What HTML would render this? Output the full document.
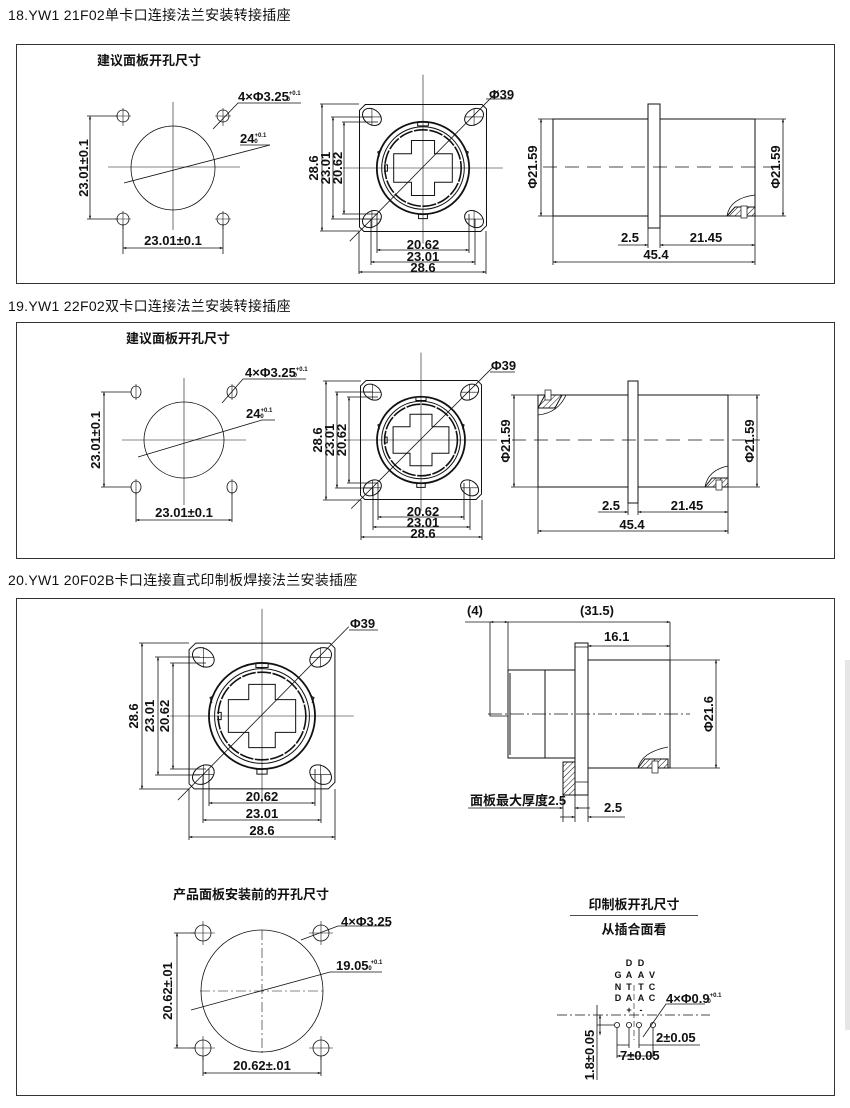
<!DOCTYPE html>
<html><head><meta charset="utf-8"><style>
html,body{margin:0;padding:0;background:#fff;}
svg{display:block;}
text{font-family:"Liberation Sans","Noto Sans CJK SC",sans-serif;fill:#111;}
.t{font-size:14px;letter-spacing:0.3px;}
.b{font-size:13px;font-weight:bold;}
</style></head><body>
<svg width="850" height="1108" viewBox="0 0 850 1108" xmlns="http://www.w3.org/2000/svg">
<defs>
<marker id="a" viewBox="0 0 10 10" refX="10" refY="5" markerWidth="6" markerHeight="4" orient="auto-start-reverse"><path d="M0,1.5 L10,5 L0,8.5z" fill="#111"/></marker>
<pattern id="h" width="4" height="4" patternUnits="userSpaceOnUse" patternTransform="rotate(45)"><line x1="0" y1="0" x2="0" y2="4" stroke="#111" stroke-width="1"/></pattern>
<g id="fv" fill="none" stroke="#111">
<path d="M-13,-14.3 L13.3,-14.3 L14.3,-13.3 L14.3,13 L13,14.3 L-13.3,14.3 L-14.3,13.3 L-14.3,-13 Z" vector-effect="non-scaling-stroke" stroke-width="1"/>
<g stroke-width="1">
<ellipse cx="-11.5" cy="-11.5" rx="2.3" ry="1.7" transform="rotate(35 -11.5 -11.5)" vector-effect="non-scaling-stroke"/>
<ellipse cx="11.5" cy="-11.5" rx="2.3" ry="1.7" transform="rotate(-35 11.5 -11.5)" vector-effect="non-scaling-stroke"/>
<ellipse cx="-11.5" cy="11.5" rx="2.3" ry="1.7" transform="rotate(-35 -11.5 11.5)" vector-effect="non-scaling-stroke"/>
<ellipse cx="11.5" cy="11.5" rx="2.3" ry="1.7" transform="rotate(35 11.5 11.5)" vector-effect="non-scaling-stroke"/>
</g>
<circle r="10.4" stroke-width="1.8" vector-effect="non-scaling-stroke"/>
<circle r="9.3" stroke-width="1" vector-effect="non-scaling-stroke"/>
<circle r="8.6" stroke-width="1.6" stroke-dasharray="14 1.5" vector-effect="non-scaling-stroke"/>
<path d="M-2.6,-6.2 L2.6,-6.2 L2.6,-3.2 L6.6,-3.2 L6.6,3.2 L2.6,3.2 L2.6,6.2 L-2.6,6.2 L-2.6,3.2 L-6.6,3.2 L-6.6,-3.2 L-2.6,-3.2 Z" stroke-width="1" vector-effect="non-scaling-stroke"/>
<path d="M-1.2,-10.3 V-9.5 H1.2 V-10.3 M-1,10.4 V11.4 H1 V10.4 M-9.4,-4 L-10.2,-3.6 L-9.8,-2.6 M9.4,-4 L10.2,-3.6 L9.8,-2.6 M-8.8,-0.7 H-8 V0.7 H-8.8" stroke-width="1" vector-effect="non-scaling-stroke"/>
<path d="M-18,0 H18 M0,-21 V17 M-11.5,-13.5 V-9.5 M-13.5,-11.5 H-9.5 M11.5,-13.5 V-9.5 M13.5,-11.5 H9.5 M-11.5,13.5 V9.5 M-13.5,11.5 H-9.5 M11.5,13.5 V9.5 M13.5,11.5 H9.5" stroke-width="0.6" vector-effect="non-scaling-stroke"/>
<path d="M-16.5,16.5 L17,-17.5" stroke-width="0.8" vector-effect="non-scaling-stroke"/>
</g>
</defs>

<!-- ===== Section 18 ===== -->
<text x="8" y="20" class="t">18.YW1 21F02单卡口连接法兰安装转接插座</text>
<rect x="16.5" y="44.5" width="818" height="239" fill="none" stroke="#333" stroke-width="1"/>
<text x="97" y="65" class="b" font-size="12">建议面板开孔尺寸</text>
<g fill="none" stroke="#111" stroke-width="0.8">
<circle cx="173" cy="168" r="42"/>
<circle cx="123" cy="116" r="6"/><circle cx="223" cy="116" r="6"/><circle cx="123" cy="219" r="6"/><circle cx="223" cy="219" r="6"/>
<path d="M108,167 H240 M173,102 V230 M123,108 V126 M115,116 H131 M223,108 V126 M215,116 H231 M123,211 V229 M115,219 H131 M223,211 V229 M215,219 H231" stroke-width="0.6"/>
<path d="M87,116 H118 M87,219 H118 M123,224 V254 M223,224 V254"/>
<path d="M90,116 V219" marker-start="url(#a)" marker-end="url(#a)"/>
<path d="M123,248 H223" marker-start="url(#a)" marker-end="url(#a)"/>
<path d="M213,129 L238,103 H301"/>
<path d="M124,183 L270,145"/>
<path d="M240,145 H270"/>
</g>
<text x="88" y="168" class="b" text-anchor="middle" transform="rotate(-90 88 168)">23.01±0.1</text>
<text x="173" y="245" class="b" text-anchor="middle">23.01±0.1</text>
<text x="238" y="101" class="b">4×Φ3.25<tspan font-size="6" dy="-6">+0.1</tspan><tspan font-size="6" dx="-14" dy="6">0</tspan></text>
<text x="240" y="143" class="b">24<tspan font-size="6" dy="-6">+0.1</tspan><tspan font-size="6" dx="-12" dy="6">0</tspan></text>

<use href="#fv" transform="translate(423,168) scale(4.44)"/>
<g fill="none" stroke="#111" stroke-width="0.8">
<path d="M320,104 H359 M331,117 H372 M342,122 H378 M331,219 H372 M342,214 H378 M320,231 H359"/>
<path d="M322,104 V231" marker-start="url(#a)" marker-end="url(#a)"/>
<path d="M333,117 V219" marker-start="url(#a)" marker-end="url(#a)"/>
<path d="M344,122 V214" marker-start="url(#a)" marker-end="url(#a)"/>
<path d="M359,231 V274 M486,231 V274 M371,219 V265 M475,219 V265 M377,214 V253 M469,214 V253"/>
<path d="M377,250 H469" marker-start="url(#a)" marker-end="url(#a)"/>
<path d="M371,262 H475" marker-start="url(#a)" marker-end="url(#a)"/>
<path d="M359,272 H486" marker-start="url(#a)" marker-end="url(#a)"/>
<path d="M486,99 H512"/>
</g>
<text x="318" y="168" class="b" text-anchor="middle" transform="rotate(-90 318 168)">28.6</text>
<text x="330" y="168" class="b" text-anchor="middle" transform="rotate(-90 330 168)">23.01</text>
<text x="342" y="168" class="b" text-anchor="middle" transform="rotate(-90 342 168)">20.62</text>
<text x="423" y="249" class="b" text-anchor="middle">20.62</text>
<text x="423" y="261" class="b" text-anchor="middle">23.01</text>
<text x="423" y="272" class="b" text-anchor="middle">28.6</text>
<text x="489" y="99" class="b">Φ39</text>

<g fill="none" stroke="#111" stroke-width="1">
<rect x="553" y="119" width="202" height="97"/>
<rect x="648" y="104" width="12" height="124" fill="#fff"/>
<path d="M543,167 H785" stroke-dasharray="14 8" stroke-width="0.8"/>
<path d="M727,216 Q730,198 755,195" stroke-width="0.8"/>
<path d="M727,216 L735,207 H755 V216 Z" fill="url(#h)"/>
<rect x="741" y="206" width="6" height="12" stroke-width="0.7" fill="#fff"/>
<g stroke-width="0.8">
<path d="M538,119 H553 M538,216 H553 M755,119 H786 M755,216 H786"/>
<path d="M541,119 V216" marker-start="url(#a)" marker-end="url(#a)"/>
<path d="M783,119 V216" marker-start="url(#a)" marker-end="url(#a)"/>
<path d="M553,216 V265 M755,216 V265 M648,228 V248 M660,228 V248"/>
<path d="M618,245 H648" marker-end="url(#a)"/>
<path d="M660,245 H755" marker-start="url(#a)" marker-end="url(#a)"/>
<path d="M553,262 H755" marker-start="url(#a)" marker-end="url(#a)"/>
</g>
</g>
<text x="537" y="167" class="b" text-anchor="middle" transform="rotate(-90 537 167)">Φ21.59</text>
<text x="780" y="167" class="b" text-anchor="middle" transform="rotate(-90 780 167)">Φ21.59</text>
<text x="630" y="242" class="b" text-anchor="middle">2.5</text>
<text x="706" y="242" class="b" text-anchor="middle">21.45</text>
<text x="656" y="259" class="b" text-anchor="middle">45.4</text>

<!-- ===== Section 19 ===== -->
<text x="8" y="311" class="t">19.YW1 22F02双卡口连接法兰安装转接插座</text>
<rect x="16.5" y="322.5" width="818" height="236" fill="none" stroke="#333" stroke-width="1"/>
<text x="126" y="343" class="b" font-size="12">建议面板开孔尺寸</text>
<g fill="none" stroke="#111" stroke-width="0.8">
<ellipse cx="184" cy="440" rx="40" ry="38"/>
<ellipse cx="136" cy="392" rx="5" ry="6"/><ellipse cx="232" cy="392" rx="5" ry="6"/><ellipse cx="136" cy="487" rx="5" ry="6"/><ellipse cx="232" cy="487" rx="5" ry="6"/>
<path d="M122,440 H246 M184,378 V505 M136,384 V400 M232,384 V400 M136,479 V495 M232,479 V495" stroke-width="0.6"/>
<path d="M101,392 H131 M101,487 H131 M136,492 V522 M232,492 V522"/>
<path d="M104,392 V487" marker-start="url(#a)" marker-end="url(#a)"/>
<path d="M136,520 H232" marker-start="url(#a)" marker-end="url(#a)"/>
<path d="M222,403 L243,379 H306"/>
<path d="M138,457 L262,420 H275"/>
</g>
<text x="100" y="440" class="b" text-anchor="middle" transform="rotate(-90 100 440)">23.01±0.1</text>
<text x="184" y="517" class="b" text-anchor="middle">23.01±0.1</text>
<text x="245" y="377" class="b">4×Φ3.25<tspan font-size="6" dy="-6">+0.1</tspan><tspan font-size="6" dx="-14" dy="6">0</tspan></text>
<text x="246" y="418" class="b">24<tspan font-size="6" dy="-6">+0.1</tspan><tspan font-size="6" dx="-12" dy="6">0</tspan></text>

<use href="#fv" transform="translate(421,440) scale(4.23,4.16)"/>
<g fill="none" stroke="#111" stroke-width="0.8">
<path d="M323,381 H361 M335,392 H373 M347,397 H378 M335,488 H373 M347,483 H378 M323,500 H361"/>
<path d="M326,381 V500" marker-start="url(#a)" marker-end="url(#a)"/>
<path d="M337,392 V488" marker-start="url(#a)" marker-end="url(#a)"/>
<path d="M349,397 V483" marker-start="url(#a)" marker-end="url(#a)"/>
<path d="M361,500 V540 M482,500 V540 M373,488 V530 M470,488 V530 M378,483 V520 M464,483 V520"/>
<path d="M378,517 H464" marker-start="url(#a)" marker-end="url(#a)"/>
<path d="M373,527 H470" marker-start="url(#a)" marker-end="url(#a)"/>
<path d="M361,537 H482" marker-start="url(#a)" marker-end="url(#a)"/>
<path d="M490,372 H515"/>
</g>
<text x="322" y="440" class="b" text-anchor="middle" transform="rotate(-90 322 440)">28.6</text>
<text x="334" y="440" class="b" text-anchor="middle" transform="rotate(-90 334 440)">23.01</text>
<text x="346" y="440" class="b" text-anchor="middle" transform="rotate(-90 346 440)">20.62</text>
<text x="423" y="516" class="b" text-anchor="middle">20.62</text>
<text x="423" y="527" class="b" text-anchor="middle">23.01</text>
<text x="423" y="538" class="b" text-anchor="middle">28.6</text>
<text x="491" y="370" class="b">Φ39</text>

<g fill="none" stroke="#111" stroke-width="1">
<rect x="538" y="395" width="190" height="92"/>
<rect x="628" y="381" width="10" height="122" fill="#fff"/>
<path d="M512,440 H760" stroke-dasharray="14 8" stroke-width="0.8"/>
<path d="M538,415 Q558,413 566,395" stroke-width="0.8"/>
<path d="M538,408 L545,395 H562 L555,408 Z" fill="url(#h)"/>
<rect x="545" y="390" width="6" height="10" stroke-width="0.7" fill="#fff"/>
<path d="M705,487 Q708,470 728,466" stroke-width="0.8"/>
<path d="M705,487 L712,478 H728 V487 Z" fill="url(#h)"/>
<rect x="716" y="480" width="6" height="10" stroke-width="0.7" fill="#fff"/>
<g stroke-width="0.8">
<path d="M511,395 H538 M511,487 H538 M728,395 H760 M728,487 H760"/>
<path d="M514,395 V487" marker-start="url(#a)" marker-end="url(#a)"/>
<path d="M757,395 V487" marker-start="url(#a)" marker-end="url(#a)"/>
<path d="M538,487 V534 M728,487 V534 M628,503 V515 M638,503 V515"/>
<path d="M598,512 H628" marker-end="url(#a)"/>
<path d="M638,512 H728" marker-start="url(#a)" marker-end="url(#a)"/>
<path d="M538,531 H728" marker-start="url(#a)" marker-end="url(#a)"/>
</g>
</g>
<text x="510" y="441" class="b" text-anchor="middle" transform="rotate(-90 510 441)">Φ21.59</text>
<text x="754" y="441" class="b" text-anchor="middle" transform="rotate(-90 754 441)">Φ21.59</text>
<text x="611" y="510" class="b" text-anchor="middle">2.5</text>
<text x="687" y="510" class="b" text-anchor="middle">21.45</text>
<text x="632" y="529" class="b" text-anchor="middle">45.4</text>

<!-- ===== Section 20 ===== -->
<text x="8" y="585" class="t">20.YW1 20F02B卡口连接直式印制板焊接法兰安装插座</text>
<rect x="16.5" y="598.5" width="818" height="497" fill="none" stroke="#333" stroke-width="1"/>

<use href="#fv" transform="translate(262,716) scale(5.1)"/>
<g fill="none" stroke="#111" stroke-width="0.8">
<path d="M139,643 H189 M155,657 H200 M170,663 H206 M155,775 H200 M170,769 H206 M139,789 H189"/>
<path d="M142,643 V789" marker-start="url(#a)" marker-end="url(#a)"/>
<path d="M158,657 V775" marker-start="url(#a)" marker-end="url(#a)"/>
<path d="M173,663 V769" marker-start="url(#a)" marker-end="url(#a)"/>
<path d="M189,789 V840 M335,789 V840 M203,775 V823 M321,775 V823 M209,769 V806 M315,769 V806"/>
<path d="M209,803 H315" marker-start="url(#a)" marker-end="url(#a)"/>
<path d="M203,820 H321" marker-start="url(#a)" marker-end="url(#a)"/>
<path d="M189,837 H335" marker-start="url(#a)" marker-end="url(#a)"/>
<path d="M349,630 H378"/>
</g>
<text x="138" y="716" class="b" text-anchor="middle" transform="rotate(-90 138 716)">28.6</text>
<text x="154" y="716" class="b" text-anchor="middle" transform="rotate(-90 154 716)">23.01</text>
<text x="169" y="716" class="b" text-anchor="middle" transform="rotate(-90 169 716)">20.62</text>
<text x="262" y="801" class="b" text-anchor="middle">20.62</text>
<text x="262" y="818" class="b" text-anchor="middle">23.01</text>
<text x="262" y="835" class="b" text-anchor="middle">28.6</text>
<text x="350" y="628" class="b">Φ39</text>

<!-- side view 20 -->
<g fill="none" stroke="#111" stroke-width="1">
<path d="M490,622 V716 H508" stroke-width="0.8"/>
<path d="M508,670 H545 V758 H508 Z"/>
<path d="M510,673 V755"/>
<path d="M545,670 H575 M545,758 H575"/>
<rect x="588" y="660" width="82" height="108"/>
<rect x="575" y="643" width="13" height="152" fill="#fff"/>
<path d="M575,647 H588 M575,782 H588" stroke-width="0.7"/>
<rect x="563" y="762" width="12" height="33" fill="url(#h)"/>
<path d="M488,714 H690" stroke-dasharray="14 3 2 3" stroke-width="0.7"/>
<path d="M638,768 Q642,752 668,747" stroke-width="0.8"/>
<path d="M638,768 L645,759 H668 V768 Z" fill="url(#h)"/>
<rect x="652" y="761" width="6" height="12" stroke-width="0.7" fill="#fff"/>
<g stroke-width="0.8">
<path d="M508,622 V670 M670,622 V660"/>
<path d="M465,622 H490"/>
<path d="M490,622 H508" marker-start="url(#a)" marker-end="url(#a)"/>
<path d="M508,622 H670" marker-end="url(#a)"/>
<path d="M588,646 H670" marker-start="url(#a)" marker-end="url(#a)"/>
<path d="M670,660 H720 M670,768 H720"/>
<path d="M716,660 V768" marker-start="url(#a)" marker-end="url(#a)"/>
<path d="M563,795 V822 M575,795 V822 M588,795 V822"/>
<path d="M468,808 H563" marker-end="url(#a)"/>
<path d="M575,808 H590" marker-start="url(#a)"/>
<path d="M560,817 H575" marker-end="url(#a)"/>
<path d="M588,817 H625" marker-start="url(#a)"/>
</g>
</g>
<text x="467" y="615" class="b">(4)</text>
<text x="580" y="615" class="b">(31.5)</text>
<text x="604" y="641" class="b">16.1</text>
<text x="713" y="714" class="b" text-anchor="middle" transform="rotate(-90 713 714)">Φ21.6</text>
<text x="470" y="805" class="b" font-size="11">面板最大厚度2.5</text>
<text x="604" y="812" class="b">2.5</text>

<!-- bottom-left panel cutout -->
<text x="173" y="899" class="b" font-size="12">产品面板安装前的开孔尺寸</text>
<g fill="none" stroke="#111" stroke-width="0.8">
<circle cx="262" cy="991" r="61"/>
<circle cx="203" cy="933" r="8"/><circle cx="321" cy="933" r="8"/><circle cx="203" cy="1048" r="8"/><circle cx="321" cy="1048" r="8"/>
<path d="M200,991 H325 M262,930 V1055" stroke-dasharray="10 3 2 3" stroke-width="0.6"/>
<path d="M203,921 V945 M191,933 H215 M321,921 V945 M309,933 H333 M203,1036 V1060 M191,1048 H215 M321,1036 V1060 M309,1048 H333" stroke-width="0.6"/>
<path d="M174,933 H195 M174,1048 H195 M203,1056 V1076 M321,1056 V1076"/>
<path d="M177,933 V1048" marker-start="url(#a)" marker-end="url(#a)"/>
<path d="M203,1073 H321" marker-start="url(#a)" marker-end="url(#a)"/>
<path d="M301,940 L338,926 H390"/>
<path d="M191,1010 L330,972 H382"/>
</g>
<text x="172" y="991" class="b" text-anchor="middle" transform="rotate(-90 172 991)">20.62±.01</text>
<text x="262" y="1070" class="b" text-anchor="middle">20.62±.01</text>
<text x="341" y="926" class="b">4×Φ3.25</text>
<text x="336" y="970" class="b">19.05<tspan font-size="6" dx="2" dy="-6">+0.1</tspan><tspan font-size="6" dx="-14" dy="6">0</tspan></text>

<!-- PCB cutout -->
<text x="634" y="909" class="b" font-size="12" text-anchor="middle">印制板开孔尺寸</text>
<path d="M570,915.5 H698" stroke="#111" stroke-width="0.8"/>
<text x="634" y="934" class="b" font-size="12" text-anchor="middle">从插合面看</text>
<g font-size="9" font-weight="bold" text-anchor="middle">
<text x="629" y="966">D</text><text x="641" y="966">D</text>
<text x="618" y="978">G</text><text x="629" y="978">A</text><text x="641" y="978">A</text><text x="652" y="978">V</text>
<text x="618" y="990">N</text><text x="629" y="990">T</text><text x="641" y="990">T</text><text x="652" y="990">C</text>
<text x="618" y="1001">D</text><text x="629" y="1001">A</text><text x="641" y="1001">A</text><text x="652" y="1001">C</text>
<text x="629" y="1013">+</text><text x="641" y="1013">-</text>
</g>
<g fill="none" stroke="#111" stroke-width="0.8">
<path d="M557,1015 H710" stroke-dasharray="10 3 2 3"/>
<path d="M634,985 V1040" stroke-dasharray="6 3" stroke-width="0.6"/>
<circle cx="617" cy="1025" r="2.6"/><circle cx="629" cy="1025" r="2.6"/><circle cx="639" cy="1025" r="2.6"/><circle cx="653" cy="1025" r="2.6"/>
<path d="M597,1025 H614 M597,1005 V1080"/>
<path d="M600,1015 V1035" marker-start="url(#a)" marker-end="url(#a)"/>
<path d="M617,1028 V1058 M653,1028 V1058 M629,1028 V1048 M639,1028 V1048"/>
<path d="M617,1045 H629 M639,1045 H700"/>
<path d="M617,1056 H653" marker-start="url(#a)" marker-end="url(#a)"/>
<path d="M643,1037 L666,1004 H705"/>
</g>
<text x="594" y="1055" class="b" text-anchor="middle" transform="rotate(-90 594 1055)">1.8±0.05</text>
<text x="656" y="1042" class="b">2±0.05</text>
<text x="620" y="1060" class="b">7±0.05</text>
<text x="666" y="1003" class="b">4×Φ0.9<tspan font-size="6" dy="-6">+0.1</tspan><tspan font-size="6" dx="-14" dy="6">0</tspan></text>

<rect x="845" y="660" width="5" height="370" fill="#e6e6e6"/>
</svg>
</body></html>
